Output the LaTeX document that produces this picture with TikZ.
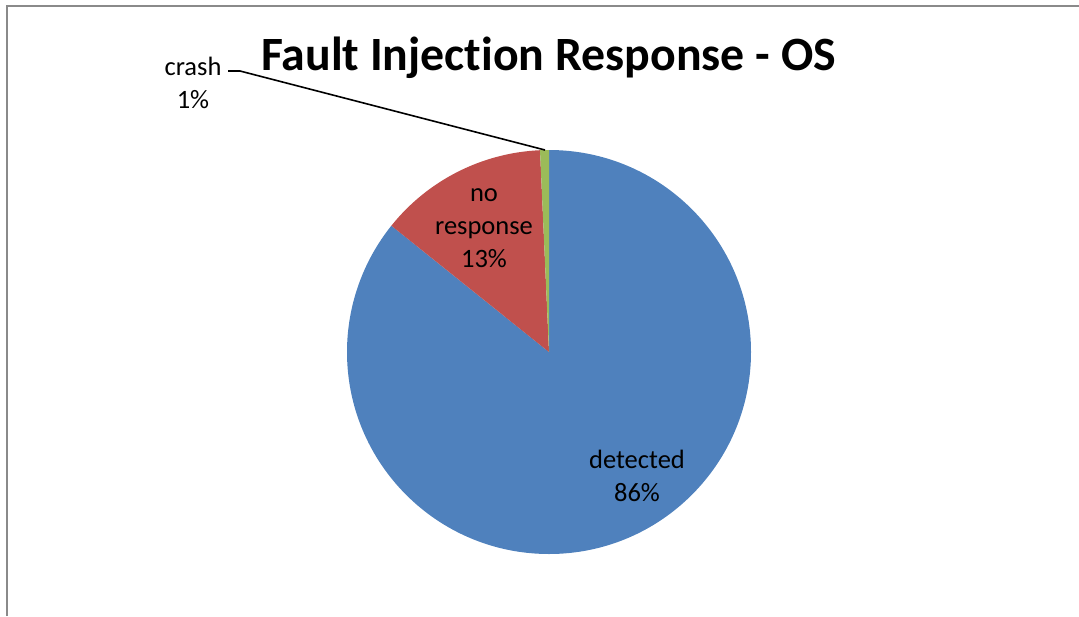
\documentclass[tikz,border=0pt]{standalone}
\usepackage{fontspec}
\setmainfont{Carlito}[Ligatures=NoCommon]
\definecolor{sliceblue}{HTML}{4F81BD}
\definecolor{slicered}{HTML}{C0504D}
\definecolor{slicegreen}{HTML}{9BBB59}
\definecolor{framegray}{HTML}{8A8A8A}
\begin{document}
\begin{tikzpicture}[x=1pt,y=-1pt,
  slicelabel/.style={align=center,font=\fontsize{26.5}{33}\selectfont,inner sep=0pt},
  leader/.style={draw=black,line width=1.6pt}]
\useasboundingbox (0,0) rectangle (1079,616);
% chart frame (left and top edges visible)
\draw[framegray,line width=2.4pt] (7,616) -- (7,6) -- (1079,6);
% pie: centre (549,352), radius 202; angles counter-clockwise, y axis flipped
\coordinate (c) at (549,352);
\def\R{202}
\fill[sliceblue]  (c) -- ++(90:-\R) arc[start angle=-90, end angle=218.7, radius=\R] -- cycle;
\fill[slicered]   (c) -- ++(-141.3:\R) arc[start angle=-141.3, end angle=-92.55, radius=\R] -- cycle;
\fill[slicegreen] (c) -- ++(-92.55:\R) arc[start angle=-92.55, end angle=-90, radius=\R] -- cycle;
% title
\node[font=\fontsize{47.8}{52}\selectfont\bfseries,inner sep=0pt] (title) at (548.5,58) {Fault Injection Response - OS};
% slice labels
\node[slicelabel] (noresp) at (484,228) {no\\response\\13\%};
\node[slicelabel] (det) at (637,476) {detected\\86\%};
\node[slicelabel] (crash) at (193,83) {crash\\1\%};
% crash leader line
\coordinate (lk) at (240,71);
\coordinate (tip) at (545,150);
\draw[leader] (228,71) -- (lk) -- (tip);
\end{tikzpicture}
\end{document}
